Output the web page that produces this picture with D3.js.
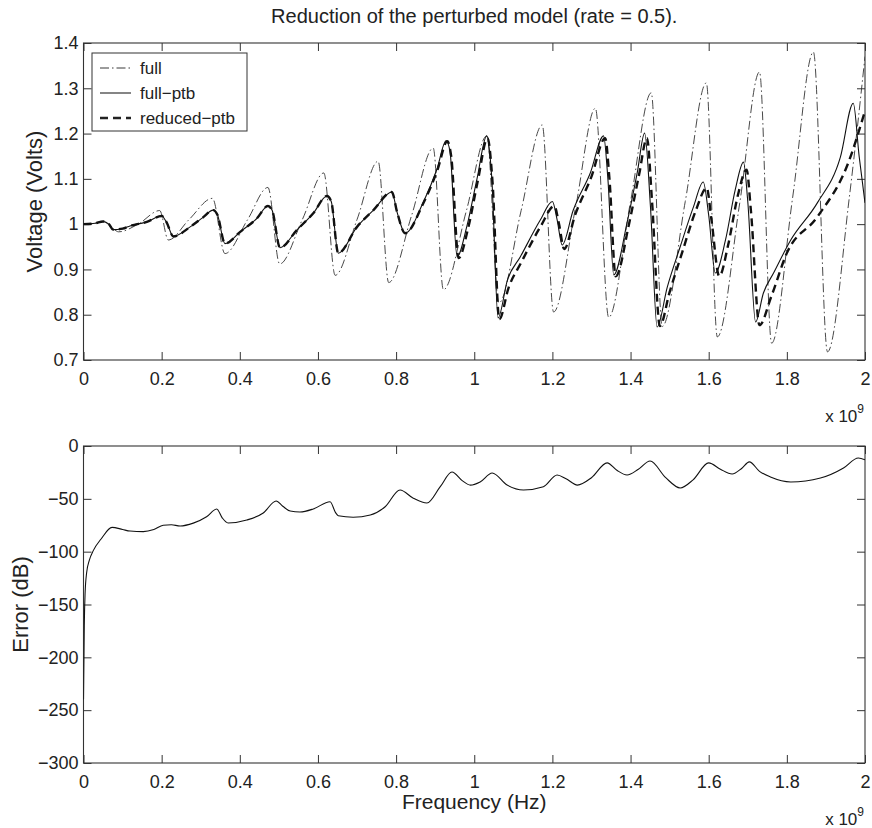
<!DOCTYPE html>
<html><head><meta charset="utf-8">
<script src="https://cdn.jsdelivr.net/npm/d3@7"></script>
<style>
body{margin:0;background:#fff;}
svg text{font-family:"Liberation Sans",Arial,Helvetica,sans-serif;fill:#222;}
</style></head>
<body><svg id="c" width="872" height="828"></svg>
<script>
// ---------- data (frequency in units of 1e9 Hz) ----------
const title = "Reduction of the perturbed model (rate = 0.5).";
const xTicks = [0,0.2,0.4,0.6,0.8,1,1.2,1.4,1.6,1.8,2];
const xTickLabels = ["0","0.2","0.4","0.6","0.8","1","1.2","1.4","1.6","1.8","2"];
const vTicks = [0.7,0.8,0.9,1,1.1,1.2,1.3,1.4];
const vTickLabels = ["0.7","0.8","0.9","1","1.1","1.2","1.3","1.4"];
const eTicks = [-300,-250,-200,-150,-100,-50,0];
const eTickLabels = ["\u2212300","\u2212250","\u2212200","\u2212150","\u2212100","\u221250","0"];
const legendNames = ["full","full\u2212ptb","reduced\u2212ptb"];

const fullF = [0,0.03,0.05,0.07,0.09,0.14,0.195,0.217,0.27,0.33,0.362,0.42,0.472,0.502,0.56,0.615,0.644,0.70,0.754,0.781,0.84,0.895,0.921,0.98,1.032,1.063,1.12,1.174,1.203,1.26,1.31,1.344,1.40,1.453,1.481,1.54,1.594,1.622,1.68,1.73,1.761,1.815,1.868,1.904,1.96,2.0];
const fullV = [1.0,1.002,1.006,0.995,0.983,1.0,1.03,0.965,1.01,1.057,0.935,1.01,1.081,0.912,1.01,1.113,0.887,1.01,1.139,0.871,1.02,1.168,0.855,1.03,1.195,0.826,1.03,1.219,0.806,1.04,1.256,0.794,1.05,1.29,0.774,1.05,1.312,0.751,1.05,1.336,0.737,1.06,1.38,0.718,1.06,1.37];

const ptbF = [0,0.03,0.05,0.065,0.076,0.1,0.119,0.162,0.2,0.212,0.23,0.273,0.306,0.332,0.343,0.362,0.401,0.444,0.472,0.483,0.503,0.546,0.588,0.623,0.634,0.652,0.70,0.742,0.789,0.803,0.823,0.869,0.904,0.928,0.938,0.956,0.981,1.007,1.032,1.045,1.061,1.085,1.118,1.169,1.2,1.212,1.225,1.253,1.297,1.331,1.342,1.357,1.391,1.417,1.436,1.451,1.468,1.494,1.527,1.561,1.586,1.6,1.617,1.643,1.668,1.689,1.7,1.72,1.74,1.766,1.81,1.878,1.937,1.97,1.985,2.0];
const ptbV = [1.0,1.002,1.006,1.0,0.988,0.99,0.996,1.005,1.018,1.005,0.973,0.994,1.015,1.031,1.02,0.957,0.983,1.013,1.04,1.03,0.948,0.987,1.024,1.062,1.05,0.936,0.994,1.031,1.071,1.025,0.98,1.047,1.12,1.184,1.16,0.928,0.995,1.1,1.195,1.1,0.793,0.877,0.928,1.009,1.05,1.01,0.954,1.03,1.113,1.195,1.1,0.888,1.003,1.113,1.201,1.038,0.773,0.861,0.95,1.038,1.093,1.02,0.892,0.965,1.076,1.137,1.05,0.784,0.848,0.892,0.965,1.047,1.148,1.267,1.15,1.047];

const redF = [0,0.03,0.05,0.065,0.076,0.1,0.119,0.162,0.2,0.212,0.23,0.273,0.306,0.332,0.343,0.362,0.401,0.444,0.472,0.483,0.503,0.546,0.588,0.623,0.634,0.652,0.70,0.742,0.789,0.803,0.823,0.869,0.906,0.931,0.941,0.96,0.984,1.009,1.034,1.047,1.064,1.088,1.12,1.17,1.205,1.217,1.23,1.258,1.30,1.335,1.346,1.362,1.396,1.422,1.442,1.455,1.475,1.5,1.533,1.567,1.595,1.607,1.627,1.65,1.675,1.697,1.708,1.73,1.76,1.80,1.878,1.957,2.0];
const redV = [1.0,1.002,1.006,1.0,0.988,0.99,0.996,1.005,1.018,1.005,0.973,0.994,1.015,1.031,1.02,0.957,0.983,1.013,1.04,1.03,0.948,0.987,1.024,1.062,1.05,0.936,0.994,1.031,1.071,1.025,0.98,1.045,1.12,1.183,1.15,0.925,0.99,1.095,1.19,1.09,0.79,0.86,0.915,0.995,1.04,1.0,0.945,1.02,1.105,1.19,1.1,0.885,1.0,1.11,1.19,1.05,0.775,0.85,0.94,1.03,1.08,1.01,0.885,0.955,1.065,1.12,1.03,0.777,0.84,0.936,1.016,1.135,1.25];

const errF = [0,0.002,0.004,0.008,0.015,0.025,0.045,0.073,0.1,0.119,0.153,0.18,0.204,0.225,0.247,0.281,0.315,0.341,0.355,0.37,0.418,0.46,0.493,0.51,0.529,0.554,0.588,0.631,0.645,0.652,0.69,0.734,0.772,0.81,0.844,0.879,0.913,0.943,0.97,0.99,1.015,1.046,1.084,1.126,1.177,1.212,1.235,1.264,1.3,1.34,1.365,1.391,1.42,1.45,1.49,1.527,1.56,1.6,1.63,1.66,1.685,1.704,1.73,1.758,1.81,1.886,1.945,1.983,2.0];
const errDB = [-240,-170,-140,-120,-108,-99,-88,-77,-79,-80.5,-81,-79,-75,-74.5,-75.7,-73,-67,-59.6,-68,-72.8,-70,-63.4,-52,-57,-61.5,-62.4,-59.6,-52.7,-63,-66,-67.4,-65.3,-57.5,-41.6,-49.4,-54,-38.5,-24.6,-33,-37,-34,-25.6,-37,-41.6,-38.5,-27.4,-31,-37,-30,-16,-23,-27.4,-22,-14.2,-30,-39.7,-32,-16,-22,-26.5,-21,-15,-24,-29.3,-34,-30.3,-20.8,-11.3,-13];

// ---------- layout ----------
const svg = d3.select("#c");
const L = 83.5, R = 865;
const T1 = 43, B1 = 360, T2 = 446, B2 = 763;
const x = d3.scaleLinear().domain([0,2]).range([L,R]);
const y1 = d3.scaleLinear().domain([0.7,1.4]).range([B1,T1]);
const y2 = d3.scaleLinear().domain([-300,0]).range([B2,T2]);
const axisColor = "#333";
const fs = 18;

function frame(yScale, yT, yLabels, top, bot, cid){
  const g = svg.append("g");
  const tk = 8;
  g.append("g").attr("transform",`translate(0,${bot})`)
    .call(d3.axisBottom(x).tickValues(xTicks).tickSize(-tk).tickPadding(12)
      .tickFormat((d,i)=>xTickLabels[i]));
  g.append("g").attr("transform",`translate(0,${top})`)
    .call(d3.axisTop(x).tickValues(xTicks).tickSize(-tk).tickFormat(""));
  g.append("g").attr("transform",`translate(${L},0)`)
    .call(d3.axisLeft(yScale).tickValues(yT).tickSize(-tk).tickPadding(5)
      .tickFormat((d,i)=>yLabels[i]));
  g.append("g").attr("transform",`translate(${R},0)`)
    .call(d3.axisRight(yScale).tickValues(yT).tickSize(-tk).tickFormat(""));
  g.selectAll(".domain").remove();
  g.selectAll(".tick line").attr("stroke",axisColor).attr("stroke-width",1);
  g.selectAll(".tick text").attr("font-size",fs).attr("fill","#222")
    .attr("font-family","Liberation Sans, Arial, sans-serif");
  g.append("rect").attr("x",L).attr("y",top).attr("width",R-L).attr("height",bot-top)
    .attr("fill","none").attr("stroke",axisColor).attr("stroke-width",1.1);
  svg.append("clipPath").attr("id",cid).append("rect")
    .attr("x",L).attr("y",top).attr("width",R-L).attr("height",bot-top);
  // x 10^9 label
  const t = svg.append("text").attr("x",R-1).attr("y",bot+62).attr("text-anchor","end")
    .attr("font-size",17);
  t.append("tspan").text("x 10");
  t.append("tspan").attr("dy",-9).attr("font-size",12).text("9");
}

frame(y1, vTicks, vTickLabels, T1, B1, "clip1");
frame(y2, eTicks, eTickLabels, T2, B2, "clip2");

// ---------- top plot lines ----------
const line1 = (F,V)=> d3.line().x((d,i)=>x(F[i])).y((d,i)=>y1(V[i])).curve(d3.curveMonotoneX)(F);
const gp = svg.append("g").attr("clip-path","url(#clip1)");
gp.append("path").attr("d",line1(fullF,fullV)).attr("fill","none")
  .attr("stroke","#333").attr("stroke-width",0.9).attr("stroke-dasharray","9,3,1.5,3");
gp.append("path").attr("d",line1(ptbF,ptbV)).attr("fill","none")
  .attr("stroke","#111").attr("stroke-width",1.1);
gp.append("path").attr("d",line1(redF,redV)).attr("fill","none")
  .attr("stroke","#111").attr("stroke-width",2.4).attr("stroke-dasharray","8,5");

// ---------- bottom plot line ----------
const g2 = svg.append("g").attr("clip-path","url(#clip2)");
g2.append("path").attr("d", d3.line().x((d,i)=>x(errF[i])).y((d,i)=>y2(errDB[i])).curve(d3.curveMonotoneX)(errF))
  .attr("fill","none").attr("stroke","#111").attr("stroke-width",1.1);

// ---------- legend ----------
const lg = svg.append("g");
lg.append("rect").attr("x",92).attr("y",53).attr("width",155).attr("height",78)
  .attr("fill","#fff").attr("stroke",axisColor).attr("stroke-width",1);
const styles = [
  {dash:"9,3,1.5,3", w:0.9},
  {dash:null, w:1.1},
  {dash:"8,5", w:2.4}
];
legendNames.forEach((n,i)=>{
  const yy = 68 + i*25;
  const ln = lg.append("line").attr("x1",100).attr("x2",131).attr("y1",yy).attr("y2",yy)
    .attr("stroke","#222").attr("stroke-width",styles[i].w);
  if(styles[i].dash) ln.attr("stroke-dasharray",styles[i].dash);
  lg.append("text").attr("x",140).attr("y",yy).attr("dy","0.35em").attr("font-size",17).text(n);
});

// ---------- titles ----------
svg.append("text").attr("x",(L+R)/2).attr("y",23).attr("text-anchor","middle")
  .attr("font-size",20).text(title);
svg.append("text").attr("transform",`translate(42,${(T1+B1)/2}) rotate(-90)`)
  .attr("text-anchor","middle").attr("font-size",22).text("Voltage (Volts)");
svg.append("text").attr("transform",`translate(28,${(T2+B2)/2}) rotate(-90)`)
  .attr("text-anchor","middle").attr("font-size",22).text("Error (dB)");
svg.append("text").attr("x",(L+R)/2).attr("y",B2+46).attr("text-anchor","middle")
  .attr("font-size",21).text("Frequency (Hz)");
</script></body></html>
